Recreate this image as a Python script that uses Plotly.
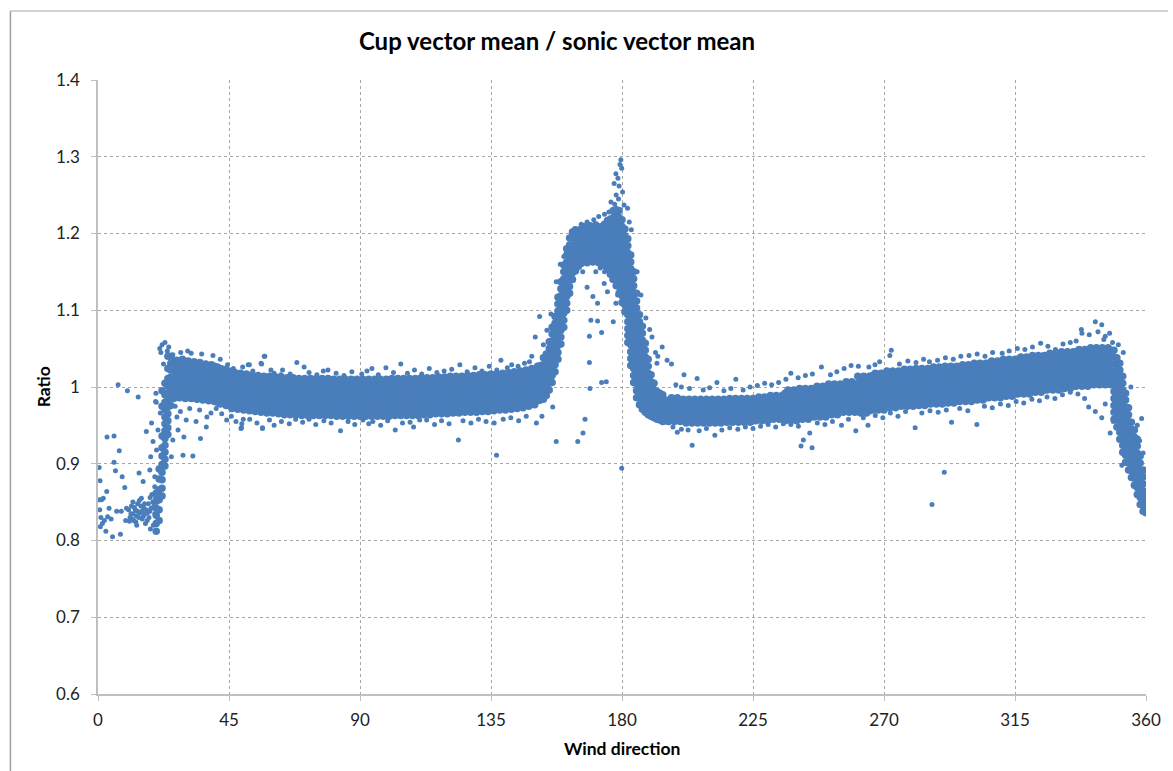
import plotly.graph_objects as go

# ---------------- data (ratio values in thousandths for dense band columns) ----------------
# dense band, one column of readings per degree of wind direction
core_a_start = 20
core_a = [
    [812, 822, 833, 842, 851, 862],
    [826, 840, 853, 866, 880, 893],
    [858, 868, 879, 889, 899, 910, 921, 936, 975, 995],
    [897, 906, 915, 924, 933, 943, 952, 961, 970, 980, 990, 1005],
    [938, 947, 956, 965, 974, 983, 992, 1001, 1011, 1024, 1040],
    [976, 986, 995, 1004, 1013, 1022, 1031, 1040],
    [985, 994, 1004, 1013, 1022, 1032],
    [988, 997, 1007, 1016, 1026, 1035],
    [986, 995, 1005, 1014, 1023, 1033],
    [988, 998, 1007, 1017, 1026, 1036],
    [985, 995, 1004, 1013, 1023, 1032],
    [987, 996, 1006, 1016, 1025, 1034],
    [985, 994, 1004, 1013, 1022, 1031],
    [986, 996, 1005, 1015, 1024, 1033],
    [984, 993, 1003, 1012, 1021, 1030],
    [985, 995, 1004, 1014, 1023, 1032],
    [983, 992, 1002, 1011, 1020, 1029],
    [984, 994, 1003, 1013, 1022, 1030],
    [982, 991, 1001, 1010, 1019, 1028],
    [983, 993, 1002, 1011, 1020, 1029],
    [981, 990, 1000, 1009, 1018, 1027],
    [980, 990, 999, 1008, 1017, 1026],
    [978, 987, 997, 1006, 1015, 1024],
    [979, 988, 997, 1006, 1015, 1023],
    [976, 985, 995, 1004, 1013, 1022],
]

core_b_start = 45
core_b = [
    [976, 985, 994, 1003, 1012, 1021],
    [972, 981, 990, 999, 1008, 1017],
    [974, 983, 992, 1001, 1010, 1019],
    [971, 980, 989, 998, 1007, 1016],
    [973, 982, 991, 1000, 1009, 1018],
    [970, 979, 988, 997, 1006, 1015],
    [972, 981, 990, 999, 1008, 1017],
    [969, 978, 987, 996, 1005, 1014],
    [971, 980, 989, 998, 1007, 1016],
    [968, 977, 986, 995, 1004, 1013],
    [970, 979, 988, 997, 1006, 1015],
    [967, 976, 985, 994, 1003, 1012],
    [969, 978, 987, 996, 1005, 1014],
    [966, 975, 984, 993, 1002, 1011],
    [969, 978, 987, 996, 1005, 1014],
    [966, 975, 984, 993, 1002, 1011],
    [968, 977, 986, 995, 1004, 1013],
    [965, 974, 983, 992, 1001, 1010],
    [968, 977, 986, 995, 1004, 1013],
    [964, 973, 982, 991, 1000, 1009],
    [967, 976, 985, 994, 1003, 1012],
    [964, 973, 982, 991, 1000, 1009],
    [967, 976, 985, 994, 1003, 1012],
    [964, 973, 982, 991, 1000, 1009],
    [966, 975, 984, 993, 1002, 1011],
    [963, 972, 981, 990, 999, 1008],
    [966, 975, 984, 993, 1002, 1011],
    [963, 972, 981, 990, 999, 1008],
    [966, 975, 984, 993, 1002, 1011],
    [963, 972, 981, 990, 999, 1008],
    [966, 975, 984, 993, 1002, 1011],
    [963, 972, 981, 990, 999, 1008],
    [966, 975, 984, 993, 1002, 1011],
    [963, 972, 981, 990, 999, 1008],
    [966, 975, 984, 993, 1002, 1011],
    [963, 972, 981, 990, 999, 1008],
    [965, 974, 983, 992, 1001, 1010],
    [962, 971, 980, 989, 998, 1007],
    [965, 974, 983, 992, 1001, 1010],
    [962, 971, 980, 989, 998, 1007],
    [965, 974, 983, 992, 1001, 1010],
    [962, 971, 980, 989, 998, 1007],
    [965, 974, 983, 992, 1001, 1010],
    [962, 971, 980, 989, 998, 1007],
    [965, 974, 983, 992, 1001, 1010],
    [962, 971, 980, 989, 998, 1007],
    [965, 974, 983, 992, 1001, 1010],
    [962, 971, 980, 989, 998, 1007],
    [965, 974, 983, 992, 1001, 1010],
    [962, 971, 980, 989, 998, 1007],
    [965, 974, 983, 992, 1001, 1010],
    [962, 971, 980, 989, 998, 1007],
    [965, 974, 983, 992, 1001, 1010],
    [962, 971, 980, 989, 998, 1007],
    [965, 974, 983, 992, 1001, 1010],
    [962, 971, 980, 989, 998, 1007],
    [966, 975, 984, 993, 1002, 1011],
    [963, 972, 981, 990, 999, 1008],
    [966, 975, 984, 993, 1002, 1011],
    [963, 972, 981, 990, 999, 1008],
    [966, 975, 984, 993, 1002, 1011],
    [963, 972, 981, 990, 999, 1008],
    [966, 975, 984, 993, 1002, 1011],
    [963, 972, 981, 990, 999, 1008],
    [966, 975, 984, 993, 1002, 1011],
    [963, 972, 981, 990, 999, 1008],
    [967, 976, 985, 994, 1003, 1012],
    [964, 973, 982, 991, 1000, 1009],
    [967, 976, 985, 994, 1003, 1012],
    [964, 973, 982, 991, 1000, 1009],
    [967, 976, 985, 994, 1003, 1012],
    [965, 974, 983, 992, 1001, 1010],
    [968, 977, 986, 995, 1004, 1013],
    [965, 974, 983, 992, 1001, 1010],
    [968, 977, 986, 995, 1004, 1013],
    [965, 974, 983, 992, 1001, 1010],
    [969, 978, 987, 996, 1005, 1014],
    [966, 975, 984, 993, 1002, 1011],
    [969, 978, 987, 996, 1005, 1014],
    [966, 975, 984, 993, 1002, 1011],
    [969, 978, 987, 996, 1005, 1014],
    [967, 976, 985, 994, 1003, 1012],
    [970, 979, 988, 997, 1006, 1015],
    [967, 976, 985, 994, 1003, 1012],
    [970, 979, 988, 997, 1006, 1015],
    [967, 976, 985, 994, 1003, 1012],
    [971, 980, 989, 998, 1007, 1016],
    [968, 977, 986, 995, 1004, 1013],
    [971, 980, 989, 998, 1007, 1016],
    [968, 977, 986, 995, 1004, 1013],
    [972, 981, 990, 999, 1008, 1017],
    [969, 978, 987, 996, 1005, 1014],
    [972, 981, 990, 999, 1008, 1017],
    [970, 979, 988, 997, 1006, 1015],
    [973, 982, 991, 1000, 1009, 1018],
    [970, 979, 988, 997, 1006, 1015],
    [974, 983, 992, 1001, 1010, 1019],
    [971, 980, 989, 998, 1007, 1016],
    [975, 984, 993, 1002, 1011, 1020],
    [972, 981, 990, 999, 1008, 1017],
    [976, 985, 994, 1003, 1012, 1021],
    [973, 982, 991, 1000, 1009, 1018],
    [977, 986, 995, 1004, 1013, 1022],
    [975, 984, 993, 1002, 1011, 1020],
    [979, 988, 997, 1006, 1015, 1024],
    [977, 986, 995, 1004, 1013, 1022],
    [982, 991, 1000, 1009, 1018, 1027],
    [983, 992, 1001, 1010, 1019, 1028],
]

core_c_start = 153
core_c = [
    [984, 993, 1002, 1011, 1020, 1029, 1038],
    [989, 998, 1007, 1016, 1025, 1034, 1043],
    [996, 1005, 1014, 1023, 1032, 1041, 1050, 1059],
    [1006, 1015, 1024, 1033, 1042, 1051, 1060, 1069, 1078],
    [1020, 1029, 1038, 1047, 1056, 1065, 1074, 1083, 1092],
    [1036, 1045, 1054, 1063, 1072, 1081, 1090, 1099, 1108, 1117],
    [1056, 1065, 1074, 1083, 1092, 1101, 1110, 1119, 1128, 1137],
    [1078, 1087, 1096, 1105, 1114, 1123, 1132, 1141, 1150, 1159],
    [1100, 1109, 1118, 1127, 1136, 1145, 1154, 1163, 1172, 1180],
    [1122, 1131, 1140, 1149, 1158, 1167, 1176, 1185, 1194],
    [1140, 1149, 1158, 1167, 1176, 1185, 1194, 1202],
    [1151, 1160, 1169, 1178, 1187, 1196, 1205],
    [1157, 1166, 1175, 1184, 1193, 1202],
    [1161, 1170, 1179, 1188, 1197, 1206],
    [1164, 1173, 1182, 1191, 1200, 1209],
    [1162, 1171, 1180, 1189, 1198, 1207],
    [1165, 1174, 1183, 1192, 1201, 1210],
    [1163, 1172, 1181, 1190, 1199, 1208],
    [1166, 1175, 1184, 1193, 1202, 1211],
    [1162, 1171, 1180, 1189, 1198, 1207],
    [1164, 1173, 1182, 1191, 1200, 1209],
    [1158, 1167, 1176, 1185, 1194, 1203, 1212],
    [1154, 1163, 1172, 1181, 1190, 1199, 1208, 1217],
    [1147, 1156, 1165, 1174, 1183, 1192, 1201, 1210, 1219],
    [1140, 1149, 1158, 1167, 1176, 1185, 1194, 1203, 1212, 1221, 1230],
    [1132, 1141, 1150, 1159, 1168, 1177, 1186, 1195, 1204, 1213, 1222, 1231],
    [1122, 1131, 1140, 1149, 1158, 1167, 1176, 1185, 1194, 1203, 1212, 1221, 1230],
    [1110, 1119, 1128, 1137, 1146, 1155, 1164, 1173, 1182, 1191, 1200, 1209, 1218],
    [1098, 1107, 1116, 1125, 1134, 1143, 1152, 1161, 1170, 1179, 1188, 1197, 1206],
    [1058, 1067, 1076, 1085, 1094, 1103, 1112, 1121, 1130, 1139, 1148, 1157, 1166, 1175, 1184, 1193],
    [1028, 1037, 1046, 1055, 1064, 1073, 1082, 1091, 1100, 1109, 1118, 1127, 1136, 1145, 1154, 1163, 1172],
    [1006, 1015, 1024, 1033, 1042, 1051, 1060, 1069, 1078, 1087, 1096, 1105, 1114, 1123, 1132, 1141, 1150],
    [986, 995, 1004, 1013, 1022, 1031, 1040, 1049, 1058, 1067, 1076, 1085, 1094, 1103, 1112, 1122],
    [977, 986, 995, 1004, 1013, 1022, 1031, 1040, 1049, 1058, 1067, 1076, 1085, 1094],
    [971, 980, 989, 998, 1007, 1016, 1025, 1034, 1043, 1052, 1061, 1070, 1079],
    [967, 976, 985, 994, 1003, 1012, 1021, 1030, 1039, 1048, 1057],
    [964, 973, 982, 991, 1000, 1009, 1018, 1027, 1036],
    [962, 971, 980, 989, 998, 1007, 1016],
    [960, 969, 978, 987, 996, 1005],
    [958, 967, 976, 985, 994],
    [957, 966, 975, 984, 992],
    [955, 964, 973, 982, 990],
    [956, 965, 974, 983],
]

core_d_start = 196
core_d = [
    [955, 964, 973, 982], [959, 968, 977, 986], [955, 964, 973, 982], [959, 968, 977, 986],
    [955, 964, 973, 982],
    [957, 966, 975, 984], [953, 962, 971, 980], [957, 966, 975, 984], [953, 962, 971, 980],
    [957, 966, 975, 984], [953, 962, 971, 980], [957, 966, 975, 984], [953, 962, 971, 980],
    [957, 966, 975, 984], [953, 962, 971, 980], [957, 966, 975, 984], [953, 962, 971, 980],
    [957, 966, 975, 984], [953, 962, 971, 980], [957, 966, 975, 984],
    [954, 963, 972, 981], [958, 967, 976, 985], [954, 963, 972, 981], [958, 967, 976, 985],
    [954, 963, 972, 981], [958, 967, 976, 985], [954, 963, 972, 981], [958, 967, 976, 985],
    [954, 963, 972, 981], [958, 967, 976, 985],
    [956, 965, 974, 983], [960, 969, 978, 987], [956, 965, 974, 983], [960, 969, 978, 987],
    [956, 965, 974, 983],
    [962, 971, 980, 989], [958, 967, 976, 985], [962, 971, 980, 989], [958, 967, 976, 985],
    [962, 971, 980, 989],
    [956, 965, 974, 983, 992], [960, 969, 978, 987, 996], [956, 965, 974, 983, 992],
    [960, 969, 978, 987, 996], [956, 965, 974, 983, 992],
    [962, 971, 980, 989, 998], [958, 967, 976, 985, 994], [962, 971, 980, 989, 998],
    [958, 967, 976, 985, 994], [962, 971, 980, 989, 998],
    [961, 970, 979, 988, 997], [965, 974, 983, 992, 1001], [961, 970, 979, 988, 997],
    [965, 974, 983, 992, 1001], [961, 970, 979, 988, 997],
    [968, 977, 986, 995, 1004], [964, 973, 982, 991, 1000], [968, 977, 986, 995, 1004],
    [964, 973, 982, 991, 1000], [968, 977, 986, 995, 1004],
    [967, 976, 985, 994, 1003], [971, 980, 989, 998, 1007], [967, 976, 985, 994, 1003],
    [971, 980, 989, 998, 1007], [967, 976, 985, 994, 1003],
    [969, 978, 987, 996, 1005, 1014], [966, 975, 984, 993, 1002, 1011],
    [969, 978, 987, 996, 1005, 1014], [966, 975, 984, 993, 1002, 1011],
    [969, 978, 987, 996, 1005, 1014],
    [970, 979, 988, 997, 1006, 1015], [973, 982, 991, 1000, 1009, 1018],
    [970, 979, 988, 997, 1006, 1015], [973, 982, 991, 1000, 1009, 1018],
    [970, 979, 988, 997, 1006, 1015],
    [976, 985, 994, 1003, 1012, 1021], [973, 982, 991, 1000, 1009, 1018],
    [976, 985, 994, 1003, 1012, 1021], [973, 982, 991, 1000, 1009, 1018],
    [976, 985, 994, 1003, 1012, 1021],
    [975, 984, 993, 1002, 1011, 1020], [978, 987, 996, 1005, 1014, 1023],
    [975, 984, 993, 1002, 1011, 1020], [978, 987, 996, 1005, 1014, 1023],
    [975, 984, 993, 1002, 1011, 1020],
    [979, 988, 997, 1006, 1015, 1024], [976, 985, 994, 1003, 1012, 1021],
    [979, 988, 997, 1006, 1015, 1024], [976, 985, 994, 1003, 1012, 1021],
    [979, 988, 997, 1006, 1015, 1024],
    [978, 987, 996, 1005, 1014, 1023], [981, 990, 999, 1008, 1017, 1026],
    [978, 987, 996, 1005, 1014, 1023], [981, 990, 999, 1008, 1017, 1026],
    [978, 987, 996, 1005, 1014, 1023],
    [982, 991, 1000, 1009, 1018, 1027], [979, 988, 997, 1006, 1015, 1024],
    [982, 991, 1000, 1009, 1018, 1027], [979, 988, 997, 1006, 1015, 1024],
    [982, 991, 1000, 1009, 1018, 1027],
    [981, 990, 999, 1008, 1017, 1026], [984, 993, 1002, 1011, 1020, 1029],
    [981, 990, 999, 1008, 1017, 1026], [984, 993, 1002, 1011, 1020, 1029],
    [981, 990, 999, 1008, 1017, 1026],
    [986, 995, 1004, 1013, 1022, 1031], [983, 992, 1001, 1010, 1019, 1028],
    [986, 995, 1004, 1013, 1022, 1031], [983, 992, 1001, 1010, 1019, 1028],
    [986, 995, 1004, 1013, 1022, 1031],
    [986, 995, 1004, 1013, 1022, 1031], [989, 998, 1007, 1016, 1025, 1034],
    [986, 995, 1004, 1013, 1022, 1031], [989, 998, 1007, 1016, 1025, 1034],
    [986, 995, 1004, 1013, 1022, 1031],
    [991, 1000, 1009, 1018, 1027, 1036], [988, 997, 1006, 1015, 1024, 1033],
    [991, 1000, 1009, 1018, 1027, 1036], [988, 997, 1006, 1015, 1024, 1033],
    [991, 1000, 1009, 1018, 1027, 1036],
    [991, 1000, 1009, 1018, 1027, 1036], [994, 1003, 1012, 1021, 1030, 1039],
    [991, 1000, 1009, 1018, 1027, 1036], [994, 1003, 1012, 1021, 1030, 1039],
    [991, 1000, 1009, 1018, 1027, 1036],
    [996, 1005, 1014, 1023, 1032, 1041], [993, 1002, 1011, 1020, 1029, 1038],
    [996, 1005, 1014, 1023, 1032, 1041], [993, 1002, 1011, 1020, 1029, 1038],
    [996, 1005, 1014, 1023, 1032, 1041],
    [996, 1005, 1014, 1023, 1032, 1041], [999, 1008, 1017, 1026, 1035, 1044],
    [996, 1005, 1014, 1023, 1032, 1041], [999, 1008, 1017, 1026, 1035, 1044],
    [996, 1005, 1014, 1023, 1032, 1041],
    [1001, 1010, 1019, 1028, 1037, 1046], [998, 1007, 1016, 1025, 1034, 1043],
    [1001, 1010, 1019, 1028, 1037, 1046], [998, 1007, 1016, 1025, 1034, 1043],
    [1001, 1010, 1019, 1028, 1037, 1046],
    [1001, 1010, 1019, 1028, 1037, 1046], [1004, 1013, 1022, 1031, 1040, 1049],
    [1001, 1010, 1019, 1028, 1037, 1046], [1004, 1013, 1022, 1031, 1040, 1049],
    [1001, 1010, 1019, 1028, 1037, 1046],
    [1006, 1015, 1024, 1033, 1042, 1051], [1003, 1012, 1021, 1030, 1039, 1048],
    [1006, 1015, 1024, 1033, 1042, 1051], [1003, 1012, 1021, 1030, 1039, 1048],
    [1006, 1015, 1024, 1033, 1042, 1051], [1003, 1012, 1021, 1030, 1039, 1048],
    [1006, 1015, 1024, 1033, 1042, 1051], [1003, 1012, 1021, 1030, 1039, 1048],
]

core_e_start = 349
core_e = [
    [958, 967, 976, 985, 994, 1003, 1012, 1021, 1030, 1039, 1048],
    [948, 957, 966, 975, 984, 993, 1002, 1011, 1020, 1029, 1038],
    [932, 941, 950, 959, 968, 977, 986, 995, 1004, 1013, 1022, 1031],
    [915, 924, 933, 942, 951, 960, 969, 978, 987, 996, 1005, 1014],
    [902, 911, 920, 929, 938, 947, 956, 965, 974, 983, 992],
    [892, 901, 910, 919, 928, 937, 946, 955, 964, 973],
    [882, 891, 900, 909, 918, 927, 936, 945, 954],
    [872, 881, 890, 899, 908, 917, 926, 935, 944],
    [860, 869, 878, 887, 896, 905, 914, 923, 932],
    [847, 856, 865, 874, 883, 892, 901, 910],
    [838, 847, 856, 865, 874, 883, 892],
    [836, 845, 854, 863],
]

# scattered readings (direction, ratio) outside the dense band
sparse_low_dir = [
    (0.4, 0.895), (0.7, 0.878), (0.5, 0.853), (1.2, 0.853), (1.8, 0.855), (0.6, 0.840), (1.0, 0.830),
    (1.5, 0.822), (2.2, 0.826), (0.8, 0.818), (2.7, 0.812), (3.0, 0.864), (3.3, 0.831), (3.8, 0.842),
    (4.5, 0.828), (5.0, 0.805), (5.5, 0.936), (6.0, 0.891), (6.4, 0.838), (6.9, 1.003), (7.3, 0.917),
    (7.7, 0.808), (8.3, 0.883), (8.0, 0.838), (9.2, 0.869), (9.5, 0.826), (10.1, 0.995), (10.5, 0.840),
    (11.0, 0.830), (11.5, 0.845), (12.0, 0.835), (12.3, 0.826), (12.8, 0.840), (13.2, 0.832),
    (13.6, 0.848), (13.8, 0.987), (14.1, 0.888), (14.4, 0.836), (14.9, 0.855), (15.2, 0.828),
    (15.5, 0.877), (15.8, 0.842), (16.2, 0.835), (16.6, 0.942), (16.9, 0.826), (17.3, 0.848),
    (17.8, 0.838), (18.1, 0.909), (18.4, 0.953), (18.5, 0.860), (18.9, 0.929), (19.2, 0.845),
    (19.5, 0.870), (19.9, 0.992), (20.0, 0.980), (19.0, 0.820), (18.0, 0.815), (11.3, 0.835),
    (11.8, 0.828), (12.5, 0.843), (13.0, 0.824), (13.5, 0.838), (14.0, 0.830), (14.7, 0.845),
    (15.0, 0.838), (15.6, 0.832), (16.0, 0.848), (16.5, 0.840), (17.0, 0.836), (17.5, 0.830),
    (18.2, 0.842), (12.0, 0.850), (14.2, 0.852), (16.3, 0.822), (13.3, 0.820), (10.8, 0.825),
    (9.8, 0.842), (17.9, 0.856), (18.8, 0.850), (19.5, 0.835), (19.8, 0.856), (17.8, 0.892),
    (19.5, 0.883), (20.1, 0.918), (20.6, 0.944), (21.4, 0.966), (19.8, 0.981), (21.2, 1.050),
    (22.0, 1.055), (23.0, 1.058), (23.8, 1.047), (21.6, 1.045), (22.5, 1.030), (24.3, 1.052),
    (3.1, 0.935), (5.5, 0.902),
]

fuzz_points = [
    # below the band start (25-60)
    (27.1, 0.961), (27.5, 0.944), (29.5, 0.935), (30.3, 0.957), (25.7, 0.931), (25.2, 0.909),
    (29.2, 0.911), (32.6, 0.910), (33.7, 0.955), (35.2, 0.933), (37.2, 0.948), (31.5, 0.972),
    (34.9, 0.970), (37.4, 0.961), (40.6, 0.972), (44.2, 0.957), (49.1, 0.946), (56.5, 0.946),
    (49.9, 0.958), (26.5, 0.975), (28.3, 0.968), (38.8, 0.966), (42.5, 0.965),
    (25.7, 1.042), (32.0, 1.044), (44.5, 1.029), (49.7, 1.026), (52.0, 1.029), (57.1, 1.040),
    (56.0, 1.031), (59.4, 1.022), (62.8, 1.016), (28.4, 1.045), (35.6, 1.043), (39.5, 1.041),
    (42.0, 1.036), (30.8, 1.047),
    # 45-152 upper
    (46.5, 1.024), (48.8, 1.019), (51.6, 1.029), (53.2, 1.021), (56.2, 1.030), (57.3, 1.040),
    (60.5, 1.018), (63.4, 1.022), (66.0, 1.017), (68.3, 1.032), (70.8, 1.026), (72.5, 1.019),
    (75.2, 1.016), (77.4, 1.021), (79.0, 1.022), (81.8, 1.018), (84.5, 1.015), (87.2, 1.020),
    (90.6, 1.017), (92.4, 1.021), (94.1, 1.024), (96.3, 1.016), (98.9, 1.025), (101.5, 1.019),
    (104.0, 1.030), (106.3, 1.018), (108.7, 1.022), (111.2, 1.017), (113.8, 1.024), (116.4, 1.019),
    (118.9, 1.021), (121.5, 1.023), (124.3, 1.029), (126.8, 1.020), (129.5, 1.025), (131.9, 1.021),
    (134.4, 1.027), (137.0, 1.022), (138.4, 1.035), (140.6, 1.025), (142.1, 1.029), (144.3, 1.027),
    (146.5, 1.031), (148.2, 1.033), (150.2, 1.065), (151.7, 1.092), (149.0, 1.040),
    # 45-152 lower
    (45.8, 0.962), (47.4, 0.955), (49.3, 0.947), (49.4, 0.952), (52.1, 0.958), (54.6, 0.953),
    (56.5, 0.947), (58.9, 0.957), (60.5, 0.950), (63.0, 0.955), (65.7, 0.952), (67.9, 0.958),
    (70.3, 0.954), (72.5, 0.958), (74.8, 0.951), (77.6, 0.956), (80.1, 0.953), (83.3, 0.943),
    (85.9, 0.955), (88.2, 0.951), (91.0, 0.957), (93.0, 0.952), (94.4, 0.955), (97.1, 0.950),
    (99.5, 0.956), (102.1, 0.944), (104.6, 0.953), (107.2, 0.954), (108.4, 0.948), (110.5, 0.957),
    (112.9, 0.957), (115.6, 0.951), (118.0, 0.956), (120.6, 0.952), (123.8, 0.931), (125.4, 0.956),
    (128.1, 0.953), (130.7, 0.958), (133.3, 0.955), (136.1, 0.953), (136.9, 0.911), (139.2, 0.958),
    (141.8, 0.960), (144.5, 0.956), (147.1, 0.962), (150.6, 0.953), (152.5, 0.962), (156.2, 0.974),
    (157.4, 0.929),
    # peak region
    (171.0, 1.150), (173.9, 1.135), (170.0, 1.118), (171.6, 1.109), (169.3, 1.087), (171.6, 1.086),
    (168.8, 1.066), (173.0, 1.071), (177.0, 1.085), (168.8, 1.032), (173.0, 1.006), (174.6, 1.007),
    (169.0, 0.998), (167.3, 0.958), (166.6, 0.940), (164.8, 0.929), (179.9, 0.894), (175.0, 1.124),
    (177.9, 1.109), (176.5, 1.140), (172.5, 1.155), (168.0, 1.130), (166.5, 1.150), (174.0, 1.150),
    (178.5, 1.120), (179.6, 1.296), (179.3, 1.290), (179.9, 1.285), (177.9, 1.278), (178.6, 1.272),
    (177.3, 1.265), (178.0, 1.250), (176.2, 1.241), (180.2, 1.254), (180.7, 1.237), (181.9, 1.233),
    (175.5, 1.228), (174.0, 1.225), (172.0, 1.222), (170.3, 1.218), (168.0, 1.215), (166.0, 1.212),
    (182.5, 1.215), (183.2, 1.205), (178.8, 1.245), (177.5, 1.238), (176.8, 1.230), (179.0, 1.262),
    (154.2, 1.074), (157.4, 1.137), (155.6, 1.095), (153.0, 1.055), (158.8, 1.160), (160.0, 1.170),
    (193.8, 1.052), (191.5, 1.045), (190.3, 1.065), (188.2, 1.090), (186.5, 1.120), (185.2, 1.150),
    (189.5, 1.075), (195.5, 1.035), (197.0, 1.030), (192.0, 1.031), (192.3, 1.040),
    # 196-348 upper
    (198.5, 1.003), (200.4, 1.000), (201.3, 1.016), (203.2, 0.998), (205.8, 1.011), (207.9, 0.996),
    (210.1, 0.999), (212.6, 1.006), (215.0, 0.995), (217.4, 0.998), (219.1, 1.010), (221.6, 0.996),
    (224.0, 1.000), (226.5, 1.002), (229.0, 1.005), (231.4, 1.003), (233.8, 1.006), (236.3, 1.010),
    (238.0, 1.018), (240.5, 1.012), (243.0, 1.015), (245.4, 1.017), (248.5, 1.026), (251.6, 1.016),
    (253.8, 1.020), (256.3, 1.024), (258.7, 1.028), (261.2, 1.027), (264.8, 1.026), (266.9, 1.029),
    (268.5, 1.033), (272.0, 1.041), (272.5, 1.048), (275.3, 1.030), (278.2, 1.034), (281.0, 1.032),
    (283.6, 1.036), (285.6, 1.033), (288.4, 1.035), (291.1, 1.038), (293.8, 1.036), (296.4, 1.040),
    (299.2, 1.041), (302.0, 1.043), (304.7, 1.040), (307.3, 1.045), (310.6, 1.044), (313.0, 1.047),
    (315.8, 1.050), (318.4, 1.049), (321.0, 1.052), (323.8, 1.057), (326.3, 1.053), (328.9, 1.049),
    (331.5, 1.056), (334.0, 1.058), (336.0, 1.060), (337.8, 1.075), (338.0, 1.070), (340.5, 1.068),
    (342.6, 1.085), (344.8, 1.081), (343.5, 1.072), (346.0, 1.066), (347.5, 1.070), (345.5, 1.062),
    (348.5, 1.058),
    # 196-348 lower
    (197.5, 0.948), (199.0, 0.941), (200.4, 0.945), (202.7, 0.944), (204.1, 0.924), (206.5, 0.943),
    (209.0, 0.946), (211.9, 0.937), (214.3, 0.944), (217.0, 0.947), (219.8, 0.945), (222.4, 0.948),
    (225.0, 0.946), (227.6, 0.949), (230.2, 0.951), (232.8, 0.948), (235.4, 0.952), (238.0, 0.951),
    (240.6, 0.949), (241.5, 0.923), (242.3, 0.931), (244.5, 0.940), (245.3, 0.921), (247.1, 0.953),
    (249.7, 0.951), (252.3, 0.955), (255.4, 0.950), (257.8, 0.958), (260.3, 0.943), (262.9, 0.960),
    (264.5, 0.950), (267.0, 0.963), (269.6, 0.960), (272.2, 0.966), (274.8, 0.962), (277.4, 0.968),
    (280.7, 0.947), (283.0, 0.966), (285.8, 0.969), (288.6, 0.967), (290.7, 0.889), (286.5, 0.847),
    (291.4, 0.970), (293.2, 0.954), (296.0, 0.972), (298.8, 0.969), (301.9, 0.951), (304.5, 0.975),
    (307.2, 0.973), (310.0, 0.978), (312.7, 0.976), (315.4, 0.981), (318.0, 0.979), (320.8, 0.984),
    (323.4, 0.982), (326.0, 0.987), (328.7, 0.985), (331.3, 0.990), (334.0, 0.993), (336.6, 0.991),
    (338.9, 0.985), (340.3, 0.974), (342.6, 0.968), (344.8, 0.960), (347.7, 0.940), (348.8, 0.955),
    (346.0, 0.978),
    # right-hand drop
    (351.7, 0.898), (358.5, 0.959), (359.0, 0.914), (353.0, 0.965), (355.5, 0.940), (357.0, 0.950),
    (359.5, 0.860), (359.8, 0.840), (359.9, 0.835), (356.5, 0.895), (352.2, 1.045), (350.5, 1.055),
    (354.8, 1.000), (357.8, 0.930), (359.3, 0.890),
]

x_ticks = [0, 45, 90, 135, 180, 225, 270, 315, 360]
y_ticks = [0.6, 0.7, 0.8, 0.9, 1.0, 1.1, 1.2, 1.3, 1.4]
y_tick_text = ["0.6", "0.7", "0.8", "0.9", "1", "1.1", "1.2", "1.3", "1.4"]

TITLE = "Cup vector mean / sonic vector mean"
X_TITLE = "Wind direction"
Y_TITLE = "Ratio"
BLUE = "#4A7EBB"


# ---------------- build ----------------
def expand(start, rows):
    xs, ys = [], []
    for i, row in enumerate(rows):
        for v in row:
            xs.append(start + i)
            ys.append(v / 1000.0)
    return xs, ys


core_x, core_y = [], []
for s, rows in [(core_a_start, core_a), (core_b_start, core_b), (core_c_start, core_c),
                (core_d_start, core_d), (core_e_start, core_e)]:
    xs, ys = expand(s, rows)
    core_x += xs
    core_y += ys

sc_x = [p[0] for p in sparse_low_dir + fuzz_points]
sc_y = [p[1] for p in sparse_low_dir + fuzz_points]

fig = go.Figure()
fig.add_trace(go.Scatter(x=core_x, y=core_y, mode="markers", hoverinfo="skip",
                         marker=dict(color=BLUE, size=7.5, line=dict(width=0))))
fig.add_trace(go.Scatter(x=sc_x, y=sc_y, mode="markers", hoverinfo="skip",
                         marker=dict(color=BLUE, size=5, line=dict(width=0))))

W, H = 1173, 771
L, R, T, B = 98, 22, 80, 77
pw, ph = W - L - R, H - T - B


def px_x(px):
    return (px - L) / pw


def px_y(py):
    return (H - B - py) / ph


GRID_DASH = "3px,3px"

fig.update_layout(
    width=W, height=H,
    margin=dict(l=L, r=R, t=T, b=B),
    paper_bgcolor="white", plot_bgcolor="white",
    showlegend=False,
    font=dict(family="Lato, Open Sans, sans-serif", color="#222222"),
    title=dict(text="<b>" + TITLE + "</b>", x=557 / W, xanchor="center",
               y=1 - 42 / H, yanchor="middle",
               font=dict(family="Lato, Open Sans, sans-serif", size=24, color="black")),
    xaxis=dict(range=[0, 360], tickvals=x_ticks, ticktext=[str(t) for t in x_ticks],
               showgrid=True, gridcolor="#A6A6A6", griddash=GRID_DASH, gridwidth=1,
               showline=True, linecolor="#BFBFBF", linewidth=1.5,
               ticks="outside", ticklen=5, tickcolor="#BFBFBF",
               tickfont=dict(size=17, color="#222222"), zeroline=False,
               ticklabelstandoff=5),
    yaxis=dict(range=[0.6, 1.4], tickvals=y_ticks, ticktext=y_tick_text,
               showgrid=True, gridcolor="#A6A6A6", griddash=GRID_DASH, gridwidth=1,
               showline=True, linecolor="#BFBFBF", linewidth=1.5,
               ticks="outside", ticklen=5, tickcolor="#BFBFBF",
               tickfont=dict(size=17, color="#222222"), zeroline=False,
               ticklabelstandoff=8),
    annotations=[
        dict(text="<b>" + X_TITLE + "</b>", xref="paper", yref="paper",
             x=px_x(625), y=px_y(748), xanchor="center", yanchor="middle",
             showarrow=False, font=dict(size=17.5, color="black")),
        dict(text="<b>" + Y_TITLE + "</b>", xref="paper", yref="paper",
             x=px_x(43), y=px_y(387), xanchor="center", yanchor="middle",
             textangle=-90, showarrow=False, font=dict(size=17.5, color="black")),
    ],
    shapes=[
        dict(type="line", xref="paper", yref="paper", x0=px_x(10), x1=px_x(1173),
             y0=px_y(11), y1=px_y(11), line=dict(color="#C4C4C4", width=1.5)),
        dict(type="line", xref="paper", yref="paper", x0=px_x(10), x1=px_x(10),
             y0=px_y(11), y1=px_y(771), line=dict(color="#A0A0A0", width=1.5)),
    ],
)

fig.write_html("out.html")
